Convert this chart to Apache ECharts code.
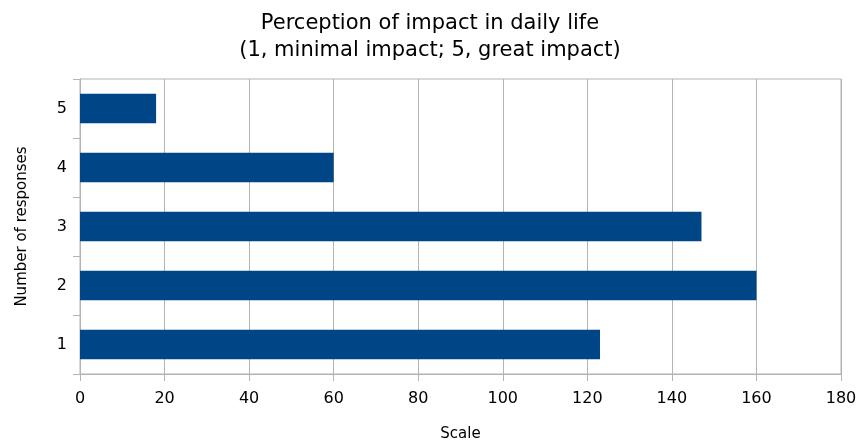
<!DOCTYPE html>
<html><head><meta charset="utf-8">
<script src="https://cdn.jsdelivr.net/npm/echarts@6/dist/echarts.min.js"></script>
<style>html,body{margin:0;padding:0;background:#fff}#c{width:860px;height:443px}</style>
</head><body><div id="c"></div>
<script>
var categories = ['1', '2', '3', '4', '5'];
var values = [123, 160, 147, 60, 18];
var xTicks = [0, 20, 40, 60, 80, 100, 120, 140, 160, 180];

var FONT = 'DejaVu Sans';
var chart = echarts.init(document.getElementById('c'));
chart.setOption({
  animation: false,
  title: {
    text: 'Perception of impact in daily life\n(1, minimal impact; 5, great impact)',
    left: 'center', top: 5,
    textStyle: { fontFamily: FONT, fontSize: 21, fontWeight: 'normal', color: '#000', lineHeight: 27 }
  },
  grid: { left: 80, right: 19, top: 79, bottom: 69, show: true, borderColor: '#b3b3b3', borderWidth: 1, outerBoundsMode: 'none', containLabel: false },
  xAxis: {
    type: 'value', min: xTicks[0], max: xTicks[xTicks.length - 1], interval: 20,
    name: 'Scale', nameLocation: 'middle', nameGap: 53,
    nameTextStyle: { fontFamily: FONT, fontSize: 15, color: '#000' },
    axisLine: { show: true, lineStyle: { color: '#b3b3b3' } },
    axisTick: { show: true, length: 7, lineStyle: { color: '#b3b3b3' } },
    axisLabel: { fontFamily: FONT, fontSize: 16, color: '#000', margin: 17 },
    splitLine: { show: true, lineStyle: { color: '#b3b3b3' } }
  },
  yAxis: {
    type: 'category', data: categories,
    name: 'Number of responses', nameLocation: 'middle', nameGap: 50,
    nameTextStyle: { fontFamily: FONT, fontSize: 15, color: '#000' },
    axisLine: { show: true, lineStyle: { color: '#b3b3b3' } },
    axisTick: { show: true, length: 7, lineStyle: { color: '#b3b3b3' } },
    axisLabel: { fontFamily: FONT, fontSize: 16, color: '#000', margin: 13 },
    splitLine: { show: false }
  },
  series: [{
    type: 'bar', data: values, barCategoryGap: '50%',
    itemStyle: { color: '#004586' }
  }]
});
</script></body></html>
